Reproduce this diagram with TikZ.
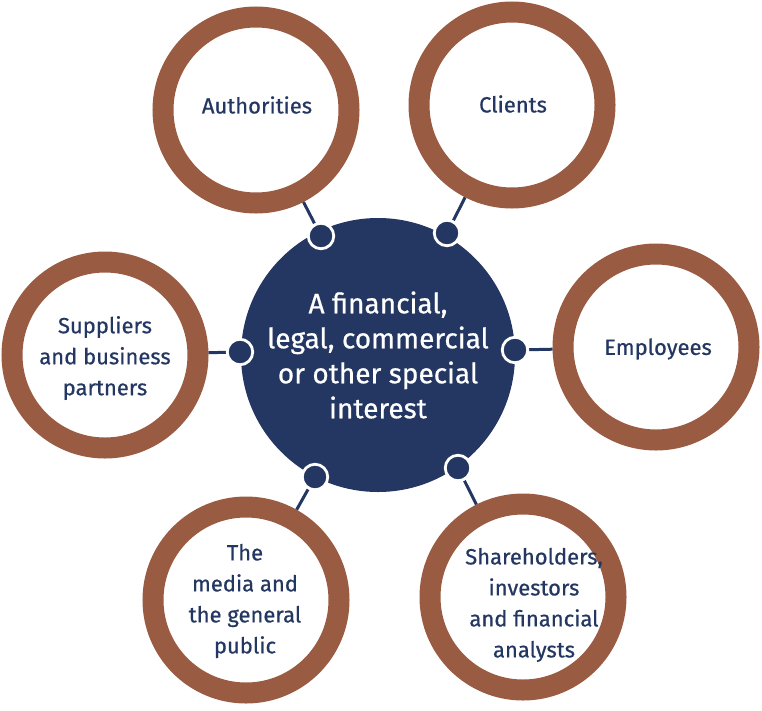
\documentclass[tikz,border=0pt]{standalone}
\usepackage{fontspec}
\setmainfont{Fira Sans}[FakeBold=0.6]
\pgfdeclarelayer{bg}
\pgfsetlayers{bg,main}
\definecolor{navy}{HTML}{243762}
\definecolor{rust}{HTML}{9A5B43}
\begin{document}
\begin{tikzpicture}[x=1pt,y=-1pt,
 ring/.style={circle,draw=rust,fill=white,line width=21pt,minimum size=186pt,inner sep=0pt},
 lbl/.style={text=navy,align=center,inner sep=0pt,font=\fontsize{22}{31}\selectfont},
 hub/.style={circle,fill=navy,minimum size=274pt,inner sep=0pt,text=white,align=center,font=\fontsize{28}{35}\selectfont},
 dot/.style={circle,fill=navy,draw=white,line width=2.8pt,minimum size=25.5pt,inner sep=0pt},
 link/.style={draw=navy,line width=3pt}]
\useasboundingbox (0,0) rectangle (762,710);

\node[ring] (r1) at (256,110) {};
\node[ring] (r2) at (512,105) {};
\node[ring] (r3) at (105,355) {};
\node[ring] (r4) at (656,347) {};
\node[ring] (r5) at (246,600) {};
\node[ring] (r6) at (523,597) {};

\node[hub] (hub) at (378,355) {A financial,\\legal, commercial\\or other special\\interest};

\node[dot] (d1) at (321,236) {};
\node[dot] (d2) at (447,233) {};
\node[dot] (d3) at (240,352) {};
\node[dot] (d4) at (515,350) {};
\node[dot] (d5) at (315,477) {};
\node[dot] (d6) at (458,468) {};

\begin{pgfonlayer}{bg}
\draw[link] (d1) -- (r1);
\draw[link] (d2) -- (r2);
\draw[link] (d3) -- (r3);
\draw[link] (d4) -- (r4);
\draw[link] (d5) -- (r5);
\draw[link] (d6) -- (r6);
\end{pgfonlayer}

\node[lbl] (t1) at (257,105) {Authorities};
\node[lbl] (t2) at (513,104) {Clients};
\node[lbl] (t3) at (105,358) {Suppliers\\and business\\partners};
\node[lbl] (t4) at (658,349) {Employees};
\node[lbl] (t5) at (245,601) {The\\media and\\the general\\public};
\node[lbl] (t6) at (534,605) {Shareholders,\\investors\\and financial\\analysts};
\end{tikzpicture}
\end{document}
